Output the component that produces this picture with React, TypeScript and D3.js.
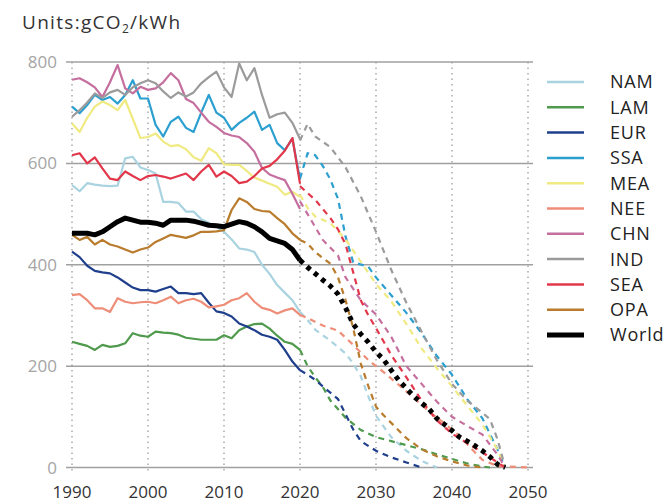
import React from "react";
import * as d3 from "d3";

const names = ["NAM", "LAM", "EUR", "SSA", "MEA", "NEE", "CHN", "IND", "SEA", "OPA", "World"];
const colors = ["#a9d3e0", "#4f9a4c", "#1f3f8c", "#2b9fd0", "#f0ea82", "#ee8e78", "#c56f9f", "#9b9b9b", "#e2374a", "#b97b2c", "#000000"];

const histYears = d3.range(1990, 2021);

const NAM = [557, 545, 561, 558, 556, 555, 556, 610, 613, 592, 587, 580, 524, 524, 522, 505, 505, 490, 483, 475, 465, 450, 432, 430, 425, 400, 382, 360, 345, 330, 307];
const LAM = [248, 244, 240, 232, 242, 238, 240, 245, 265, 260, 258, 268, 266, 265, 262, 256, 254, 252, 252, 252, 261, 255, 271, 278, 283, 284, 274, 260, 248, 244, 232];
const EUR = [426, 415, 398, 388, 385, 383, 375, 365, 355, 350, 350, 347, 352, 357, 344, 344, 342, 344, 325, 308, 305, 298, 284, 278, 271, 262, 258, 252, 232, 209, 192];
const SSA = [712, 699, 715, 735, 725, 731, 718, 735, 764, 728, 728, 676, 653, 682, 692, 670, 662, 700, 735, 700, 690, 666, 680, 690, 702, 666, 676, 640, 626, 649, 568];
const MEA = [679, 662, 690, 712, 722, 715, 705, 725, 688, 650, 652, 659, 643, 634, 636, 628, 612, 605, 630, 620, 598, 597, 597, 585, 572, 566, 560, 554, 538, 544, 534];
const NEE = [340, 342, 330, 314, 314, 307, 334, 327, 324, 326, 327, 324, 330, 337, 324, 330, 333, 327, 316, 318, 321, 330, 334, 344, 327, 315, 311, 304, 310, 314, 301];
const CHN = [765, 768, 760, 750, 731, 760, 794, 748, 738, 751, 745, 748, 760, 778, 764, 727, 719, 700, 682, 672, 660, 655, 652, 640, 623, 591, 578, 572, 567, 540, 510];
const IND = [692, 705, 720, 738, 729, 740, 745, 735, 750, 758, 764, 758, 742, 729, 740, 732, 740, 758, 770, 781, 750, 731, 797, 764, 788, 735, 690, 697, 700, 680, 648];
const SEA = [616, 620, 600, 612, 590, 570, 567, 584, 575, 567, 575, 577, 574, 570, 575, 580, 567, 584, 597, 574, 584, 575, 561, 564, 575, 590, 595, 608, 625, 650, 560];
const OPA = [459, 449, 455, 440, 449, 440, 436, 430, 424, 430, 434, 445, 452, 459, 456, 453, 458, 465, 465, 466, 468, 508, 531, 524, 510, 506, 505, 492, 480, 462, 449];
const World = [462, 462, 462, 459, 465, 475, 485, 492, 488, 484, 484, 482, 478, 488, 488, 488, 486, 482, 478, 477, 475, 480, 485, 482, 475, 465, 452, 447, 442, 430, 409];

// projections: [year, value]
const NAMp = [[2020, 307], [2021, 291], [2022, 272], [2024, 250], [2026, 225], [2027, 205], [2028, 180], [2029, 140], [2030, 102], [2032, 60], [2034, 33], [2036, 13], [2038, 0]];
const LAMp = [[2020, 232], [2021, 200], [2022, 178], [2023, 159], [2024, 132], [2026, 98], [2028, 74], [2030, 60], [2032, 52], [2034, 44], [2036, 36], [2038, 26], [2040, 17], [2042, 8], [2044, 2], [2045, 0]];
const EURp = [[2020, 192], [2021, 183], [2022, 173], [2023, 160], [2025, 135], [2026, 105], [2027, 75], [2028, 52], [2030, 33], [2032, 20], [2034, 10], [2036, 0]];
const SSAp = [[2020, 570], [2021, 620], [2022, 616], [2023, 595], [2024, 568], [2025, 530], [2026, 455], [2027, 405], [2029, 396], [2030, 375], [2032, 340], [2034, 305], [2036, 265], [2038, 220], [2040, 183], [2042, 135], [2044, 97], [2046, 35], [2047, 0]];
const MEAp = [[2020, 538], [2021, 512], [2022, 495], [2024, 482], [2026, 450], [2028, 406], [2030, 362], [2032, 328], [2034, 283], [2036, 235], [2038, 196], [2040, 160], [2042, 122], [2044, 85], [2046, 35], [2047, 0]];
const NEEp = [[2020, 301], [2021, 295], [2023, 280], [2025, 270], [2027, 242], [2029, 212], [2031, 188], [2033, 163], [2035, 137], [2037, 110], [2039, 87], [2041, 62], [2043, 30], [2044, 15], [2046, 3], [2050, 0]];
const CHNp = [[2020, 525], [2021, 500], [2023, 449], [2025, 418], [2026, 375], [2028, 330], [2030, 302], [2032, 258], [2034, 200], [2036, 165], [2038, 130], [2040, 100], [2042, 82], [2044, 65], [2046, 25], [2047, 0]];
const INDp = [[2020, 645], [2021, 678], [2022, 653], [2024, 632], [2026, 592], [2028, 535], [2030, 465], [2032, 390], [2034, 325], [2036, 268], [2038, 212], [2040, 165], [2042, 132], [2044, 108], [2045, 95], [2046, 55], [2047, 0]];
const SEAp = [[2020, 555], [2022, 528], [2024, 492], [2025, 470], [2026, 440], [2027, 385], [2028, 330], [2029, 300], [2030, 275], [2032, 222], [2034, 178], [2036, 132], [2038, 93], [2040, 67], [2042, 48], [2044, 30], [2046, 10], [2047, 0]];
const OPAp = [[2020, 449], [2021, 442], [2022, 425], [2024, 402], [2025, 375], [2026, 330], [2027, 275], [2028, 205], [2029, 160], [2030, 120], [2031, 103], [2032, 88], [2034, 58], [2036, 36], [2038, 22], [2040, 12], [2042, 4], [2044, 0]];
const Worldp = [[2020, 409], [2021, 395], [2023, 370], [2024, 358], [2025, 342], [2026, 315], [2027, 283], [2028, 263], [2029, 247], [2030, 228], [2031, 213], [2032, 192], [2033, 172], [2034, 156], [2035, 140], [2036, 127], [2037, 115], [2038, 97], [2039, 85], [2040, 73], [2041, 60], [2042, 52], [2043, 43], [2044, 33], [2045, 21], [2046, 6], [2047, 0]];

const hist = [NAM, LAM, EUR, SSA, MEA, NEE, CHN, IND, SEA, OPA, World];
const proj = [NAMp, LAMp, EURp, SSAp, MEAp, NEEp, CHNp, INDp, SEAp, OPAp, Worldp];

const yTicks = [0, 200, 400, 600, 800];
const xTicks = [1990, 2000, 2010, 2020, 2030, 2040, 2050];

export default function App() {
  const x = d3.scaleLinear().domain([1990, 2050]).range([72, 528]);
  const y = d3.scaleLinear().domain([0, 800]).range([467.5, 62]);
  const line = d3.line<number[]>().x((d) => x(d[0])).y((d) => y(d[1]));
  const font = "'Open Sans', Lato, sans-serif";

  return (
    <svg width={669} height={504} style={{ position: "absolute", left: 0, top: 0, background: "#fff" }}>
      <text x={22} y={29} fontFamily={font} fontSize={19} fill="#333" letterSpacing={1.3}>
        Units:gCO<tspan fontSize={12} dy={4}>2</tspan><tspan dy={-4}>/kWh</tspan>
      </text>
      {xTicks.map((t) => (
        <line key={"vx" + t} x1={x(t)} x2={x(t)} y1={62} y2={471} stroke="#aaa" strokeWidth={1.5} strokeDasharray="1.5,4" />
      ))}
      {yTicks.map((t) => (
        <line key={"hy" + t} x1={66} x2={533} y1={y(t)} y2={y(t)} stroke="#a0a0a0" strokeWidth={1.5} />
      ))}
      {yTicks.map((t) => (
        <text key={"ty" + t} x={57} y={y(t)} dy="0.36em" textAnchor="end" fontFamily={font} fontSize={17} fill="#a5a5a5">{t}</text>
      ))}
      {xTicks.map((t) => (
        <text key={"tx" + t} x={x(t)} y={498} textAnchor="middle" fontFamily={font} fontSize={17} fill="#333">{t}</text>
      ))}
      {names.map((n, i) => {
        const isWorld = n === "World";
        const h = histYears.map((yr, j) => [yr, hist[i][j]]);
        return (
          <g key={n}>
            <path d={line(h) || ""} fill="none" stroke={colors[i]} strokeWidth={isWorld ? 5 : 2.2} strokeLinejoin="round" />
            <path d={line(proj[i]) || ""} fill="none" stroke={colors[i]} strokeWidth={isWorld ? 5 : 2.2} strokeDasharray={isWorld ? "4.5,5" : "6,5"} />
          </g>
        );
      })}
      {names.map((n, i) => {
        const ly = 82 + i * 25.3;
        return (
          <g key={"lg" + n}>
            <line x1={547} x2={584} y1={ly} y2={ly} stroke={colors[i]} strokeWidth={n === "World" ? 5 : 2.5} />
            <text x={610} y={ly} dy="0.36em" fontFamily={font} fontSize={18} fill="#222" letterSpacing={0.8}>{n}</text>
          </g>
        );
      })}
    </svg>
  );
}
